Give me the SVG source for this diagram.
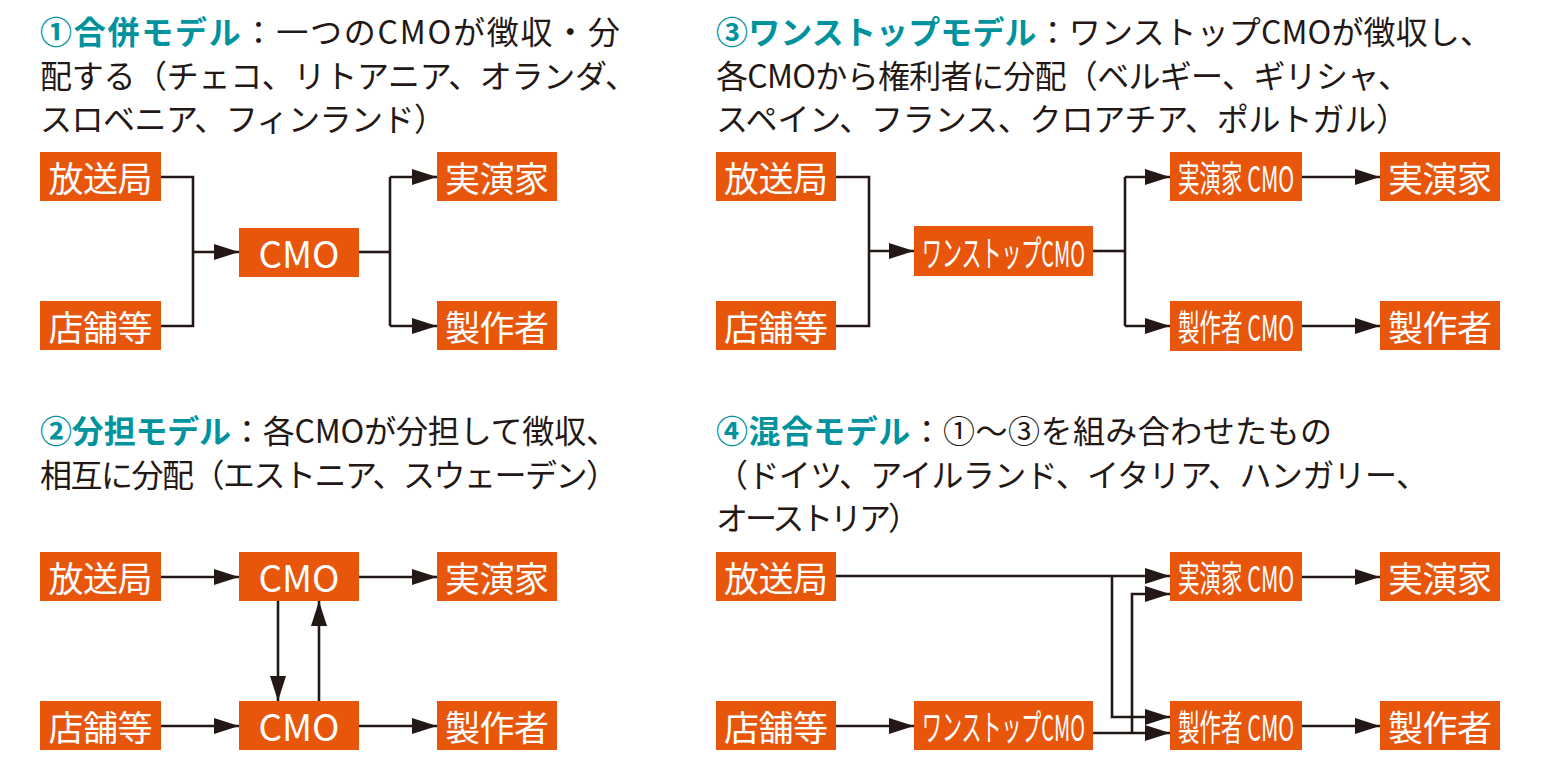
<svg xmlns="http://www.w3.org/2000/svg" width="1554" height="764" viewBox="0 0 1554 764">
<style>
.h{font-family:"Noto Sans CJK JP","Noto Sans",sans-serif;font-size:32px;fill:#231815}
.t{fill:#00939E;font-weight:bold}
.b{fill:#E8560C}
.l{font-family:"Noto Sans CJK JP","Noto Sans",sans-serif;font-size:35px;fill:#fff;text-anchor:middle;dominant-baseline:central}
.m{font-family:"Noto Sans CJK JP","Noto Sans",sans-serif;font-size:37px;fill:#fff;text-anchor:middle;dominant-baseline:central}
.c{font-family:"Noto Sans CJK JP","Noto Sans",sans-serif;font-size:36px;fill:#fff;dominant-baseline:central}
.k{fill:none;stroke:#231815;stroke-width:2.6}
</style>
<defs>
<marker id="a" markerUnits="userSpaceOnUse" markerWidth="28" markerHeight="18" refX="25" refY="8.5" orient="auto">
<path d="M0,0.5 L25,8.5 L0,16.5 z" fill="#231815"/>
</marker>
</defs>

<g id="headers">
<text class="h" x="40" y="44" textLength="580" lengthAdjust="spacing"><tspan class="t">①合併モデル</tspan>：一つのCMOが徴収・分</text>
<text class="h" x="40" y="88" textLength="597" lengthAdjust="spacing">配する（チェコ、リトアニア、オランダ、</text>
<text class="h" x="40" y="131" textLength="406" lengthAdjust="spacing">スロベニア、フィンランド）</text>

<text class="h" x="40" y="443" textLength="578" lengthAdjust="spacing"><tspan class="t">②分担モデル</tspan>：各CMOが分担して徴収、</text>
<text class="h" x="40" y="487" textLength="578" lengthAdjust="spacing">相互に分配（エストニア、スウェーデン）</text>

<text class="h" x="716" y="44" textLength="776" lengthAdjust="spacing"><tspan class="t">③ワンストップモデル</tspan>：ワンストップCMOが徴収し、</text>
<text class="h" x="716" y="88" textLength="694" lengthAdjust="spacing">各CMOから権利者に分配（ベルギー、ギリシャ、</text>
<text class="h" x="716" y="131" textLength="692" lengthAdjust="spacing">スペイン、フランス、クロアチア、ポルトガル）</text>

<text class="h" x="716" y="443" textLength="616" lengthAdjust="spacing"><tspan class="t">④混合モデル</tspan>：①～③を組み合わせたもの</text>
<text class="h" x="716" y="487" textLength="712" lengthAdjust="spacing">（ドイツ、アイルランド、イタリア、ハンガリー、</text>
<text class="h" x="716" y="530" textLength="204" lengthAdjust="spacing">オーストリア）</text>
</g>

<g id="connectors">
<!-- model 1 -->
<polyline class="k" points="161,177 193,177 193,326 161,326"/>
<line class="k" x1="193" y1="252" x2="239" y2="252" marker-end="url(#a)"/>
<line class="k" x1="359" y1="252" x2="390" y2="252"/>
<line class="k" x1="390" y1="177" x2="390" y2="326"/>
<line class="k" x1="390" y1="177" x2="437" y2="177" marker-end="url(#a)"/>
<line class="k" x1="390" y1="326" x2="437" y2="326" marker-end="url(#a)"/>
<!-- model 2 -->
<line class="k" x1="161" y1="577" x2="239" y2="577" marker-end="url(#a)"/>
<line class="k" x1="359" y1="577" x2="437" y2="577" marker-end="url(#a)"/>
<line class="k" x1="161" y1="726" x2="239" y2="726" marker-end="url(#a)"/>
<line class="k" x1="359" y1="726" x2="437" y2="726" marker-end="url(#a)"/>
<line class="k" x1="278" y1="601" x2="278" y2="701" marker-end="url(#a)"/>
<line class="k" x1="319" y1="701" x2="319" y2="601" marker-end="url(#a)"/>
<!-- model 3 -->
<polyline class="k" points="836,177 869,177 869,326 836,326"/>
<line class="k" x1="869" y1="251" x2="914" y2="251" marker-end="url(#a)"/>
<line class="k" x1="1093" y1="251" x2="1125" y2="251"/>
<line class="k" x1="1125" y1="177" x2="1125" y2="326"/>
<line class="k" x1="1125" y1="177" x2="1170" y2="177" marker-end="url(#a)"/>
<line class="k" x1="1125" y1="326" x2="1170" y2="326" marker-end="url(#a)"/>
<line class="k" x1="1302" y1="177" x2="1380" y2="177" marker-end="url(#a)"/>
<line class="k" x1="1302" y1="326" x2="1380" y2="326" marker-end="url(#a)"/>
<!-- model 4 -->
<line class="k" x1="836" y1="576" x2="1170" y2="576" marker-end="url(#a)"/>
<polyline class="k" points="1112,576 1112,717 1170,717" marker-end="url(#a)"/>
<line class="k" x1="836" y1="726" x2="914" y2="726" marker-end="url(#a)"/>
<line class="k" x1="1093" y1="733" x2="1170" y2="733" marker-end="url(#a)"/>
<polyline class="k" points="1132,733 1132,594 1170,594" marker-end="url(#a)"/>
<line class="k" x1="1302" y1="577" x2="1380" y2="577" marker-end="url(#a)"/>
<line class="k" x1="1302" y1="726" x2="1380" y2="726" marker-end="url(#a)"/>
</g>

<!-- model 1 nodes -->
<g id="m1-housoukyoku"><rect class="b" x="40" y="152" width="121" height="49"/><text class="l" x="100.5" y="176" textLength="104">放送局</text></g>
<g id="m1-tenpo"><rect class="b" x="40" y="301" width="121" height="49"/><text class="l" x="100.5" y="325" textLength="104">店舗等</text></g>
<g id="m1-cmo"><rect class="b" x="239" y="228" width="120" height="49"/><text class="m" x="299" y="252">CMO</text></g>
<g id="m1-jitsuenka"><rect class="b" x="437" y="152" width="120" height="49"/><text class="l" x="497" y="176" textLength="104">実演家</text></g>
<g id="m1-seisakusha"><rect class="b" x="437" y="301" width="120" height="49"/><text class="l" x="497" y="325" textLength="104">製作者</text></g>

<!-- model 2 nodes -->
<g id="m2-housoukyoku"><rect class="b" x="40" y="552" width="121" height="49"/><text class="l" x="100.5" y="576" textLength="104">放送局</text></g>
<g id="m2-tenpo"><rect class="b" x="40" y="701" width="121" height="49"/><text class="l" x="100.5" y="725" textLength="104">店舗等</text></g>
<g id="m2-cmo1"><rect class="b" x="239" y="552" width="120" height="49"/><text class="m" x="299" y="576">CMO</text></g>
<g id="m2-cmo2"><rect class="b" x="239" y="701" width="120" height="49"/><text class="m" x="299" y="725">CMO</text></g>
<g id="m2-jitsuenka"><rect class="b" x="437" y="552" width="120" height="49"/><text class="l" x="497" y="576" textLength="104">実演家</text></g>
<g id="m2-seisakusha"><rect class="b" x="437" y="701" width="120" height="49"/><text class="l" x="497" y="725" textLength="104">製作者</text></g>

<!-- model 3 nodes -->
<g id="m3-housoukyoku"><rect class="b" x="716" y="152" width="120" height="49"/><text class="l" x="776" y="176" textLength="104">放送局</text></g>
<g id="m3-tenpo"><rect class="b" x="716" y="301" width="120" height="49"/><text class="l" x="776" y="325" textLength="104">店舗等</text></g>
<g id="m3-onestop"><rect class="b" x="914" y="226" width="179" height="50"/><text class="c" transform="translate(922,251) scale(0.57,1)" textLength="286" lengthAdjust="spacingAndGlyphs">ワンストップCMO</text></g>
<g id="m3-jitsuenka-cmo"><rect class="b" x="1170" y="152" width="132" height="49"/><text class="c" transform="translate(1178,176) scale(0.57,1)" textLength="204" lengthAdjust="spacingAndGlyphs">実演家 CMO</text></g>
<g id="m3-seisakusha-cmo"><rect class="b" x="1170" y="301" width="132" height="50"/><text class="c" transform="translate(1178,325) scale(0.57,1)" textLength="204" lengthAdjust="spacingAndGlyphs">製作者 CMO</text></g>
<g id="m3-jitsuenka"><rect class="b" x="1380" y="152" width="120" height="49"/><text class="l" x="1440" y="176" textLength="104">実演家</text></g>
<g id="m3-seisakusha"><rect class="b" x="1380" y="301" width="120" height="49"/><text class="l" x="1440" y="325" textLength="104">製作者</text></g>

<!-- model 4 nodes -->
<g id="m4-housoukyoku"><rect class="b" x="716" y="552" width="120" height="49"/><text class="l" x="776" y="576" textLength="104">放送局</text></g>
<g id="m4-tenpo"><rect class="b" x="716" y="701" width="120" height="49"/><text class="l" x="776" y="725" textLength="104">店舗等</text></g>
<g id="m4-onestop"><rect class="b" x="914" y="701" width="179" height="49"/><text class="c" transform="translate(922,725) scale(0.57,1)" textLength="286" lengthAdjust="spacingAndGlyphs">ワンストップCMO</text></g>
<g id="m4-jitsuenka-cmo"><rect class="b" x="1170" y="552" width="132" height="49"/><text class="c" transform="translate(1178,576) scale(0.57,1)" textLength="204" lengthAdjust="spacingAndGlyphs">実演家 CMO</text></g>
<g id="m4-seisakusha-cmo"><rect class="b" x="1170" y="701" width="132" height="49"/><text class="c" transform="translate(1178,725) scale(0.57,1)" textLength="204" lengthAdjust="spacingAndGlyphs">製作者 CMO</text></g>
<g id="m4-jitsuenka"><rect class="b" x="1380" y="552" width="120" height="49"/><text class="l" x="1440" y="576" textLength="104">実演家</text></g>
<g id="m4-seisakusha"><rect class="b" x="1380" y="701" width="120" height="49"/><text class="l" x="1440" y="725" textLength="104">製作者</text></g>
</svg>
